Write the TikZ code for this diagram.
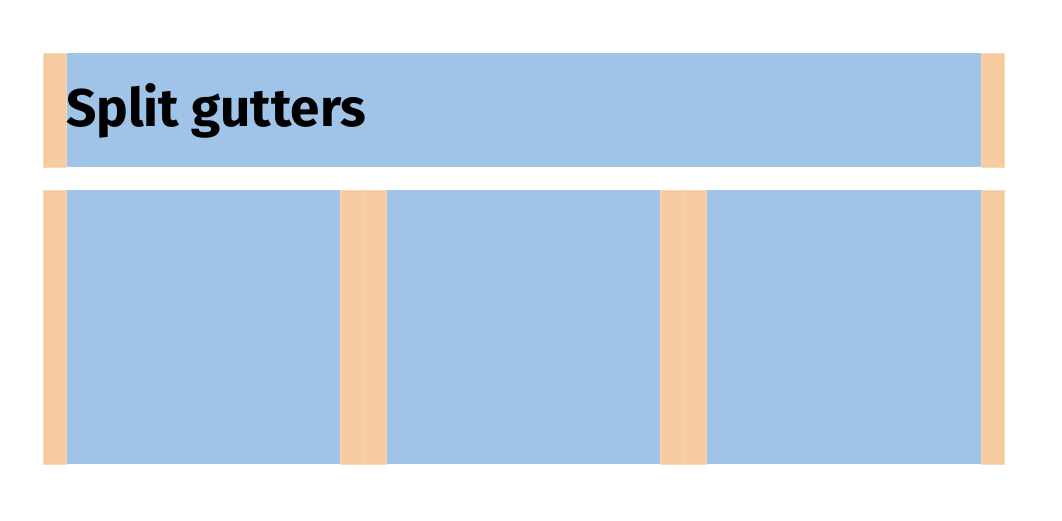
\documentclass[tikz,border=0pt]{standalone}
\usepackage{fontspec}
\setsansfont{Fira Sans}
\usetikzlibrary{positioning}

\definecolor{colblue}{RGB}{160,196,232}
\definecolor{gutorange}{RGB}{246,203,160}

\begin{document}
\begin{tikzpicture}[
    x=1pt, y=-1pt,
    column/.style  = {fill=colblue, inner sep=0pt, outer sep=0pt, anchor=north west},
    gutter/.style  = {fill=gutorange, draw=gutorange!75!white, line width=0.5pt,
                      inner sep=0pt, outer sep=0pt, anchor=north west,
                      minimum width=23pt},
    heading/.style = {font=\sffamily\bfseries\fontsize{53}{53}\selectfont,
                      inner sep=0pt, anchor=base west}
  ]
\useasboundingbox (0,0) rectangle (1062,520);

% =========================================================
% Header row: one wide column with padding gutters
% =========================================================
\node[column, minimum width=915pt, minimum height=114pt] (hdr) at (66,53) {};
\node[gutter, minimum height=114pt] (hdrL) at (43,53) {};
\node[gutter, minimum height=114pt] (hdrR) at (981,53) {};
\node[heading] (title) at (66,126) {Split gutters};

% =========================================================
% Body row: three columns, gutters split into two halves
% =========================================================
\foreach \i/\x in {1/66, 2/386.5, 3/706.5}
  \node[column, minimum width=274.5pt, minimum height=274pt] (col\i) at (\x,190) {};

\foreach \j/\x in {1/43, 2/340.5, 3/363.5, 4/660.5, 5/683.5, 6/981}
  \node[gutter, minimum height=274pt] (gut\j) at (\x,190) {};

\end{tikzpicture}
\end{document}
